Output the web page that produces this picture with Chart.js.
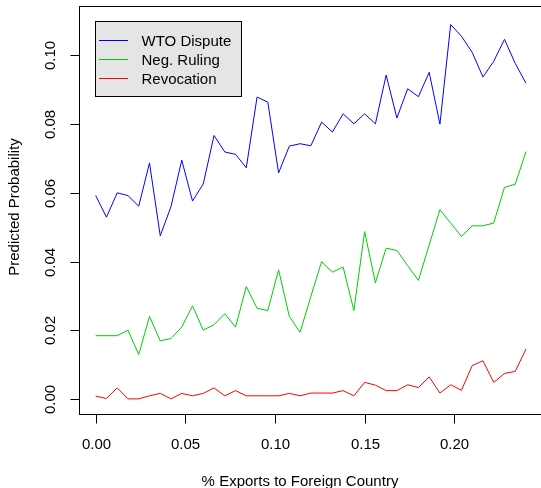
<!DOCTYPE html>
<html>
<head>
<meta charset="utf-8">
<script src="https://cdn.jsdelivr.net/npm/chart.js@4"></script>
<style>
  html, body { margin: 0; padding: 0; background: #fff; overflow: hidden; }
  #wrap { width: 544px; height: 488px; }
</style>
</head>
<body>
<div id="wrap"><canvas id="chart" width="544" height="488"></canvas></div>
<script>
// share of exports going to the foreign country (x values)
const exportShare = [0.000, 0.006, 0.012, 0.018, 0.024, 0.030, 0.036, 0.042, 0.048, 0.054,
    0.060, 0.066, 0.072, 0.078, 0.084, 0.090, 0.096, 0.102, 0.108, 0.114,
    0.120, 0.126, 0.132, 0.138, 0.144, 0.150, 0.156, 0.162, 0.168, 0.174,
    0.180, 0.186, 0.192, 0.198, 0.204, 0.210, 0.216, 0.222, 0.228, 0.234, 0.240];

const wtoDispute = [0.0592, 0.0529, 0.0600, 0.0592, 0.0561, 0.0687, 0.0475, 0.0560, 0.0695, 0.0576,
    0.0626, 0.0767, 0.0719, 0.0712, 0.0673, 0.0879, 0.0864, 0.0658, 0.0736, 0.0743,
    0.0737, 0.0806, 0.0777, 0.0830, 0.0801, 0.0830, 0.0801, 0.0943, 0.0818, 0.0903,
    0.0880, 0.0951, 0.0800, 0.1090, 0.1056, 0.1009, 0.0937, 0.0983, 0.1047, 0.0977, 0.0919];

const negRuling = [0.0184, 0.0184, 0.0184, 0.0200, 0.0129, 0.0240, 0.0169, 0.0176, 0.0209, 0.0271,
    0.0200, 0.0216, 0.0248, 0.0209, 0.0327, 0.0264, 0.0257, 0.0376, 0.0240, 0.0194,
    0.0298, 0.0400, 0.0369, 0.0384, 0.0257, 0.0487, 0.0338, 0.0439, 0.0432, 0.0388,
    0.0345, 0.0448, 0.0551, 0.0512, 0.0473, 0.0504, 0.0504, 0.0512, 0.0616, 0.0625, 0.0720];

const revocation = [0.0008, 0.0001, 0.0032, 0.0000, 0.0000, 0.0009, 0.0016, 0.0000, 0.0016, 0.0009,
    0.0016, 0.0032, 0.0009, 0.0024, 0.0009, 0.0009, 0.0009, 0.0009, 0.0016, 0.0009,
    0.0017, 0.0017, 0.0017, 0.0024, 0.0009, 0.0048, 0.0040, 0.0024, 0.0024, 0.0041,
    0.0033, 0.0064, 0.0017, 0.0041, 0.0025, 0.0097, 0.0111, 0.0048, 0.0074, 0.0080, 0.0145];

const seriesNames = ['WTO Dispute', 'Neg. Ruling', 'Revocation'];
const seriesColors = ['#0000ff', '#00cd00', '#ff0000'];

const xTicks = [0.00, 0.05, 0.10, 0.15, 0.20];
const xTickLabels = ['0.00', '0.05', '0.10', '0.15', '0.20'];
const yTicks = [0.00, 0.02, 0.04, 0.06, 0.08, 0.10];
const yTickLabels = ['0.00', '0.02', '0.04', '0.06', '0.08', '0.10'];

const FONT = '15px "Liberation Sans", Arial, sans-serif';

function points(ys) {
    return exportShare.map((x, i) => ({ x: x, y: ys[i] }));
}

// R-style axes, box and legend
const rStyle = {
    id: 'rStyle',
    afterDraw(chart) {
        const ctx = chart.ctx;
        const a = chart.chartArea;
        const xs = chart.scales.x;
        const ys = chart.scales.y;
        ctx.save();
        ctx.strokeStyle = '#000';
        ctx.fillStyle = '#000';
        ctx.lineWidth = 1;
        ctx.font = FONT;

        // box
        ctx.strokeRect(Math.round(a.left) + 0.5, Math.round(a.top) + 0.5,
            Math.round(a.right - a.left), Math.round(a.bottom - a.top));

        // x ticks
        const by = Math.round(a.bottom) + 0.5;
        ctx.textAlign = 'center';
        ctx.textBaseline = 'alphabetic';
        xTicks.forEach((v, i) => {
            const px = Math.round(xs.getPixelForValue(v)) + 0.5;
            ctx.beginPath();
            ctx.moveTo(px, by);
            ctx.lineTo(px, by + 9);
            ctx.stroke();
            ctx.fillText(xTickLabels[i], px, 448.5);
        });

        // y ticks
        const lx = Math.round(a.left) + 0.5;
        yTicks.forEach((v, i) => {
            const py = Math.round(ys.getPixelForValue(v)) + 0.5;
            ctx.beginPath();
            ctx.moveTo(lx, py);
            ctx.lineTo(lx - 9, py);
            ctx.stroke();
            ctx.save();
            ctx.translate(55, py);
            ctx.rotate(-Math.PI / 2);
            ctx.fillText(yTickLabels[i], 0, 0);
            ctx.restore();
        });

        // axis titles
        ctx.fillText('% Exports to Foreign Country', 300, 486);
        ctx.save();
        ctx.translate(18.5, 207);
        ctx.rotate(-Math.PI / 2);
        ctx.fillText('Predicted Probability', 0, 0);
        ctx.restore();

        // legend
        ctx.fillStyle = '#e5e5e5';
        ctx.fillRect(95.5, 21.5, 146, 75);
        ctx.strokeRect(95.5, 21.5, 146, 75);
        const rows = [40.5, 59.5, 78.5];
        ctx.textAlign = 'left';
        seriesNames.forEach((name, i) => {
            ctx.strokeStyle = seriesColors[i];
            ctx.beginPath();
            ctx.moveTo(99, rows[i]);
            ctx.lineTo(128, rows[i]);
            ctx.stroke();
            ctx.fillStyle = '#000';
            ctx.fillText(name, 141.5, rows[i] + 5.5);
        });
        ctx.restore();
    }
};

new Chart(document.getElementById('chart'), {
    type: 'line',
    data: {
        datasets: [
            { label: seriesNames[0], data: points(wtoDispute), borderColor: seriesColors[0] },
            { label: seriesNames[1], data: points(negRuling), borderColor: seriesColors[1] },
            { label: seriesNames[2], data: points(revocation), borderColor: seriesColors[2] }
        ].map(d => Object.assign(d, { borderWidth: 1, pointRadius: 0, tension: 0, fill: false }))
    },
    options: {
        responsive: false,
        animation: false,
        devicePixelRatio: 1,
        layout: { padding: { top: 6, right: 0.8, left: 0, bottom: 0 } },
        plugins: { legend: { display: false }, tooltip: { enabled: false } },
        scales: {
            x: {
                type: 'linear',
                min: -0.0096,
                max: 0.2496,
                grid: { display: false },
                border: { display: false },
                ticks: { display: false },
                afterFit: s => { s.height = 74; }
            },
            y: {
                min: -0.0044,
                max: 0.1144,
                grid: { display: false },
                border: { display: false },
                ticks: { display: false },
                afterFit: s => { s.width = 78.5; }
            }
        }
    },
    plugins: [rStyle]
});
</script>
</body>
</html>
